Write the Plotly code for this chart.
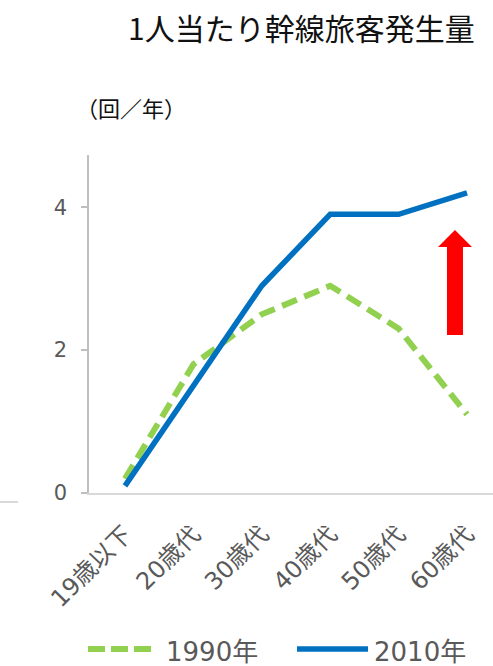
import plotly.graph_objects as go

# Trips per person on trunk-line passenger travel, by age group
age_groups = ["19歳以下", "20歳代", "30歳代", "40歳代", "50歳代", "60歳代"]
trips_1990 = [0.2, 1.8, 2.5, 2.9, 2.3, 1.1]
trips_2010 = [0.1, 1.5, 2.9, 3.9, 3.9, 4.2]
y_ticks = [0, 2, 4]

series_names = ["1990年", "2010年"]
green = "#92D050"
blue = "#0070C0"
grey_text = "#595959"

W, H = 493, 666
L, T, B = 89, 155, 173
plot_w = W - L
plot_h = H - T - B


def px(x):
    """Page x pixel -> paper coordinate."""
    return (x - L) / plot_w


def py(y):
    """Page y pixel -> paper coordinate."""
    return (H - B - y) / plot_h


font_family = "DejaVu Sans, Noto Sans CJK JP, sans-serif"
cjk_family = "Noto Sans CJK JP, sans-serif"

fig = go.Figure()
fig.add_trace(go.Scatter(
    x=age_groups, y=trips_1990, mode="lines", name=series_names[0],
    line=dict(color=green, width=6, dash="16px,8px"), showlegend=False,
))
fig.add_trace(go.Scatter(
    x=age_groups, y=trips_2010, mode="lines", name=series_names[1],
    line=dict(color=blue, width=5.5), showlegend=False,
))

shapes = []
# red upward arrow
arrow = [(447, 335), (447, 247), (438, 247), (455, 230), (472, 247),
         (463, 247), (463, 335)]
path = "M " + " L ".join(f"{px(x):.4f},{py(y):.4f}" for x, y in arrow) + " Z"
shapes.append(dict(type="path", xref="paper", yref="paper", path=path,
                   fillcolor="#FF0000", line=dict(width=0)))

# legend samples
shapes.append(dict(type="line", xref="paper", yref="paper",
                   x0=px(88), x1=px(154), y0=py(649), y1=py(649),
                   line=dict(color=green, width=6, dash="17px,6px")))
shapes.append(dict(type="line", xref="paper", yref="paper",
                   x0=px(297), x1=px(368), y0=py(649), y1=py(649),
                   line=dict(color=blue, width=5.5)))
# neighbouring panel's baseline at the left edge
shapes.append(dict(type="line", xref="paper", yref="paper",
                   x0=px(0), x1=px(18), y0=py(502), y1=py(502),
                   line=dict(color="#d9d9d9", width=2)))

annotations = [
    dict(text="1人当たり幹線旅客発生量", xref="paper", yref="paper",
         x=px(301), y=py(27), xanchor="center", yanchor="middle",
         showarrow=False, font=dict(size=30, color="#111111", family=cjk_family)),
    dict(text="（回／年）", xref="paper", yref="paper",
         x=px(131), y=py(107), xanchor="center", yanchor="middle",
         showarrow=False, font=dict(size=22, color="#111111", family=cjk_family)),
    dict(text=series_names[0], xref="paper", yref="paper",
         x=px(164), y=py(652), xanchor="left", yanchor="middle",
         showarrow=False, font=dict(size=26, color=grey_text, family=font_family)),
    dict(text=series_names[1], xref="paper", yref="paper",
         x=px(372), y=py(652), xanchor="left", yanchor="middle",
         showarrow=False, font=dict(size=26, color=grey_text, family=font_family)),
]

fig.update_layout(
    width=W, height=H,
    margin=dict(l=L, r=0, t=T, b=B, pad=0),
    paper_bgcolor="white", plot_bgcolor="white",
    font=dict(family=font_family, color=grey_text),
    shapes=shapes, annotations=annotations,
    showlegend=False,
)
fig.update_xaxes(
    type="category", range=[-0.526, 5.38],
    showline=True, linecolor="#d9d9d9", linewidth=1.5,
    showgrid=False, zeroline=False, ticks="",
    tickangle=-45, tickfont=dict(size=24, color=grey_text),
    ticklabelstandoff=16,
)
fig.update_yaxes(
    range=[0, 4.73], tickvals=y_ticks,
    showline=True, linecolor="#bfbfbf", linewidth=1.5,
    showgrid=False, zeroline=False,
    ticks="outside", ticklen=6, tickcolor="#bfbfbf", tickwidth=1.5,
    tickfont=dict(size=21, color=grey_text), ticklabelstandoff=10,
)

fig.write_html("out.html")
